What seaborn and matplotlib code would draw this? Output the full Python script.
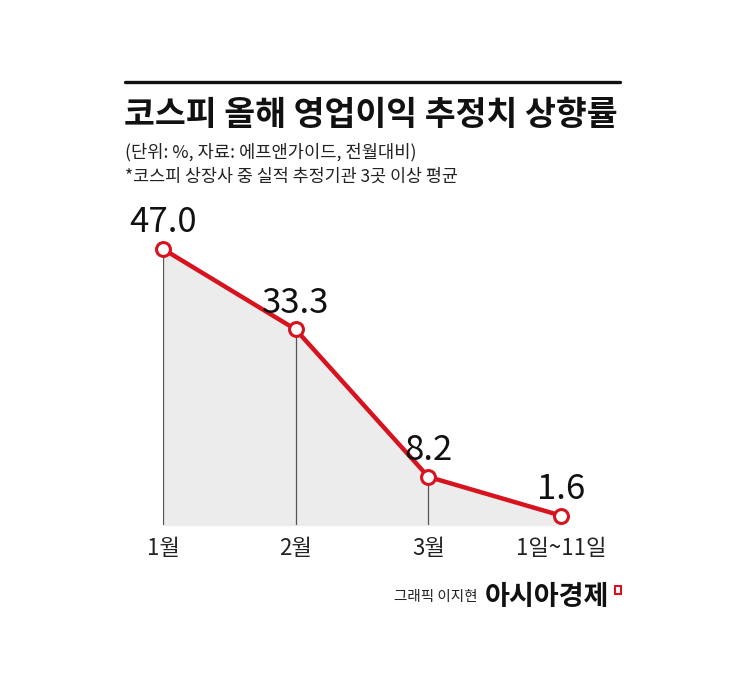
import matplotlib
matplotlib.use('Agg')
import matplotlib.pyplot as plt
import seaborn as sns
import pandas as pd
from matplotlib.lines import Line2D
from matplotlib.patches import Rectangle

# chart data
periods = ['1월', '2월', '3월', '1일~11일']
revision = [47.0, 33.3, 8.2, 1.6]
value_labels = ['47.0', '33.3', '8.2', '1.6']

title = '코스피 올해 영업이익 추정치 상향률'
subtitle1 = '(단위: %, 자료: 에프앤가이드, 전월대비)'
subtitle2 = '*코스피 상장사 중 실적 추정기관 3곳 이상 평균'
credit = '그래픽 이지현'
brand = '아시아경제'

sns.set_theme(style='white')
plt.rcParams['font.family'] = ['Noto Sans CJK KR', 'DejaVu Sans']

RED = '#d7131f'
W, H = 745, 695

df = pd.DataFrame({'period': periods, 'pos': range(len(periods)), 'value': revision})

fig = plt.figure(figsize=(W / 100, H / 100), dpi=100)
fig.patch.set_facecolor('white')

# axes placed so that x positions 0..3 land on the markers, y 0..47
left, right, top, bottom = 163, 561, 249, 525
ax = fig.add_axes([left / W, 1 - bottom / H, (right - left) / W, (bottom - top) / H])
ax.set_xlim(0, 3)
ax.set_ylim(0, 47)
ax.axis('off')

ax.fill_between(df['pos'], 0, df['value'], color='#ececec', zorder=1, clip_on=False)
ax.vlines(df['pos'][:-1], 0, df['value'][:-1], color='#555555', lw=0.9, zorder=2)

sns.lineplot(data=df, x='pos', y='value', color=RED, lw=3.2, marker='o',
             markersize=10, markerfacecolor='white', markeredgecolor=RED,
             markeredgewidth=2.2, ax=ax, zorder=3, clip_on=False)

for x, y, lab in zip(df['pos'], df['value'], value_labels):
    ax.annotate(lab, (x, y), xytext=(0, 12), textcoords='offset points',
                ha='center', va='baseline', fontsize=25, color='#111111')

for x, lab in zip(df['pos'], periods):
    ax.annotate(lab, (x, 0), xytext=(0, -17), textcoords='offset points',
                ha='center', va='center', fontsize=16, color='#222222')

# header
fig.add_artist(Line2D([125 / W, 620 / W], [1 - 82 / H, 1 - 82 / H],
                      color='#111111', lw=2.4))
fig.text(124 / W, 1 - 116 / H, title, fontsize=24.2, fontweight='bold',
         va='center', ha='left', color='#111111')
fig.text(125 / W, 1 - 152 / H, subtitle1, fontsize=12.7, va='center',
         ha='left', color='#222222')
fig.text(125 / W, 1 - 177 / H, subtitle2, fontsize=12.5, va='center',
         ha='left', color='#222222')

# footer
fig.text(478 / W, 1 - 597 / H, credit, fontsize=10.5, va='center', ha='right',
         color='#222222')
fig.text(485 / W, 1 - 597 / H, brand, fontsize=19.5, fontweight='bold',
         va='center', ha='left', color='#111111')
fig.add_artist(Rectangle((615 / W, 1 - 594 / H), 6 / W, 8 / H,
                         transform=fig.transFigure, fill=False,
                         edgecolor=RED, lw=1.5))

fig.savefig('out.png', dpi=100, facecolor='white')
